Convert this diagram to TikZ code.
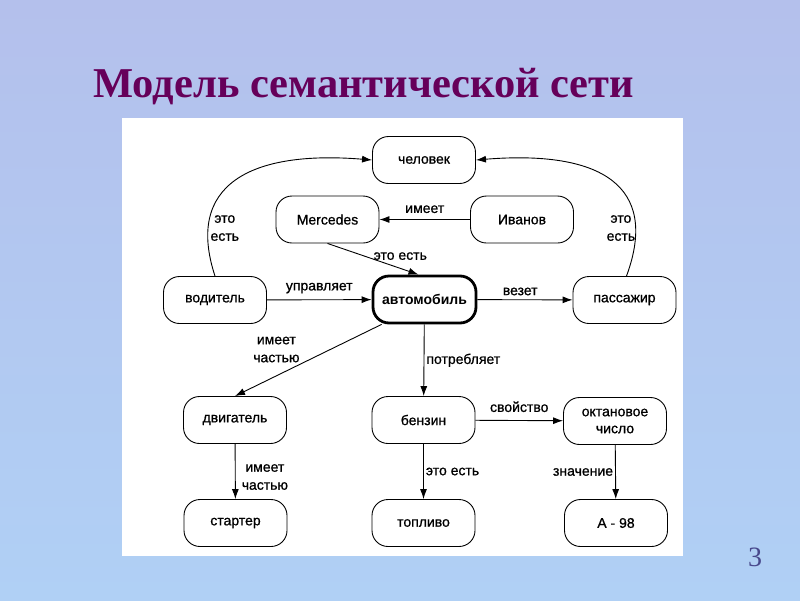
\documentclass[tikz,border=0pt]{standalone}
\usepackage{fontspec}
\setmainfont{Liberation Serif}
\setsansfont{Liberation Sans}
\newfontfamily\medsans[FakeBold=0.8]{Liberation Sans}
\usetikzlibrary{arrows.meta}

\definecolor{bgtop}{RGB}{180,192,236}
\definecolor{bgbottom}{RGB}{176,208,245}
\definecolor{titlepurple}{RGB}{102,0,90}
\definecolor{pagenum}{RGB}{72,72,140}

\tikzset{
	concept/.style={draw, rounded corners=16pt, minimum width=103pt, minimum height=47pt,
		align=center, font=\medsans\fontsize{14}{17}\selectfont, line width=0.9pt},
	relation/.style={draw, line width=0.9pt, -{Latex[length=10pt,width=7pt]}},
	rellabel/.style={font=\medsans\fontsize{14}{18}\selectfont, align=center, inner sep=2pt}
}

\begin{document}
\begin{tikzpicture}[x=1pt, y=-1pt]
	\shade[top color=bgtop, bottom color=bgbottom] (0,0) rectangle (800,600);
	\useasboundingbox (0,0) rectangle (800,600);
	\fill[white] (122,118) rectangle (683,556);
	\node[anchor=base west, text=titlepurple, font=\bfseries\fontsize{42.5}{46}\selectfont, inner sep=0pt]
		(title) at (93,97) {Модель семантической сети};
	\node[text=pagenum, font=\fontsize{28}{30}\selectfont] (pagenr) at (755,557) {3};

	% concepts
	\node[concept] (chel) at (424,160) {человек};
	\node[concept] (merc) at (327.5,219.5) {Mercedes};
	\node[concept] (ivan) at (522,219.5) {Иванов};
	\node[concept] (vod) at (215,300) {водитель};
	\node[concept, line width=2.8pt, font=\sffamily\bfseries\fontsize{14}{17}\selectfont] (avto) at (424.5,299.5) {автомобиль};
	\node[concept] (pass) at (624.5,300) {пассажир};
	\node[concept] (dvig) at (235,420) {двигатель};
	\node[concept] (benz) at (423.5,420) {бензин};
	\node[concept] (oktan) at (615,421) {октановое\\число};
	\node[concept] (start) at (235.5,523) {стартер};
	\node[concept] (topl) at (423.5,523) {топливо};
	\node[concept] (aval) at (616,523) {А - 98};

	% relations
	\draw[relation] (vod.north) .. controls (185,185) and (250,150) .. (chel.west)
		node[rellabel, pos=0.2, anchor=west] {это\\есть};
	\draw[relation] ([xshift=2pt]pass.north) .. controls (660,185) and (600,150) .. (chel.east)
		node[rellabel, pos=0.2, anchor=east, inner sep=0pt] {это\\есть};
	\draw[relation] (ivan) -- (merc) node[rellabel, midway, above=4pt] {имеет};
	\draw[relation] (merc.south) -- ([xshift=-6pt]avto.north) node[rellabel, pos=0.8, above=6pt] {это есть};
	\draw[relation] (vod) -- (avto) node[rellabel, midway, above=4pt] {управляет};
	\draw[relation] (avto) -- (pass) node[rellabel, pos=0.45, above=2pt] {везет};
	\draw[relation] ([xshift=10pt]avto.south west) -- (dvig.north)
		node[rellabel, pos=0.55, anchor=south east, inner sep=1pt] {имеет\\частью};
	\draw[relation] (avto) -- (benz) node[rellabel, midway, right] {потребляет};
	\draw[relation] (dvig) -- (start) node[rellabel, pos=0.6, right=4pt] {имеет\\частью};
	\draw[relation] (benz) -- (oktan) node[rellabel, midway, above=6pt] {свойство};
	\draw[relation] (benz) -- (topl) node[rellabel, midway, right] {это есть};
	\draw[relation] (oktan) -- (aval) node[rellabel, midway, left] {значение};
\end{tikzpicture}
\end{document}
